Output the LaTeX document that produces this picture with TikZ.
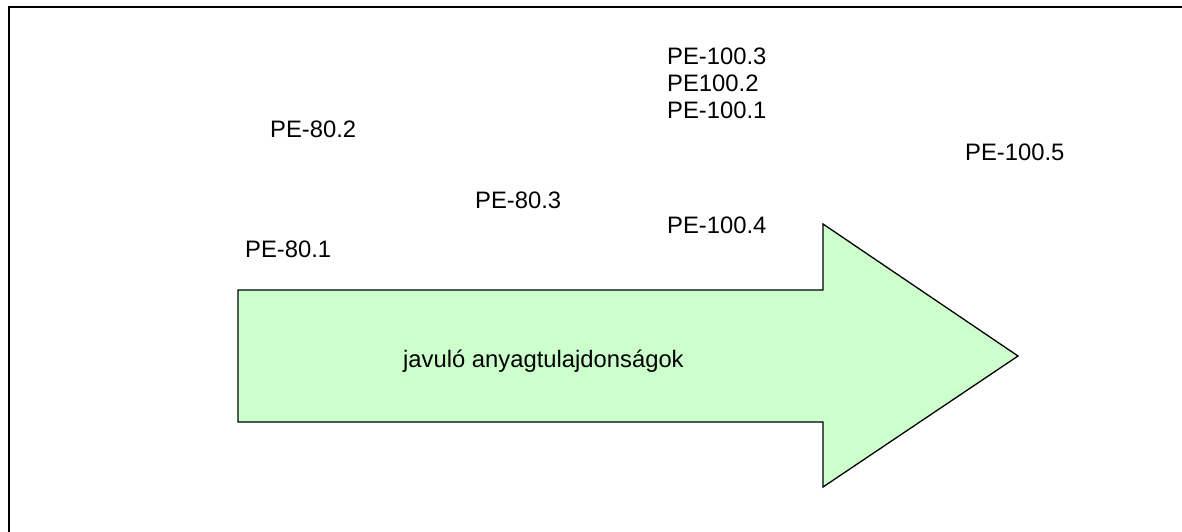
\documentclass[tikz,border=0pt]{standalone}
\usepackage{fontspec}
\setmainfont{Liberation Sans}
\usepackage{tikz}

\definecolor{arrowgreen}{HTML}{CCFFCC}

\tikzset{
  label text/.style={anchor=base west, inner sep=0pt, font=\fontsize{23.8}{27}\selectfont},
}

\begin{document}
\begin{tikzpicture}[x=1pt, y=-1pt]

\useasboundingbox (0, 0) rectangle (1182, 531);
\clip (0, 0) rectangle (1182, 531);

% frame
\draw[line width=2pt] (9, 540)--(9, 7)--(1190, 7);

% arrow
\draw[fill=arrowgreen, line width=1.3pt, line join=miter]
  (238, 290)--(823, 290)--(823, 224)--(1018, 356)--(823, 487)--(823, 422)--(238, 422)--cycle;

\node[label text] (arrowtext) at (403, 367) {javuló anyagtulajdonságok};

\node[label text] (pe801) at (245, 257) {PE-80.1};
\node[label text] (pe802) at (270, 137) {PE-80.2};
\node[label text] (pe803) at (475, 208) {PE-80.3};

\node[label text] (pe1003) at (667, 64) {PE-100.3};
\node[label text] (pe1002) at (667, 91) {PE100.2};
\node[label text] (pe1001) at (667, 118) {PE-100.1};
\node[label text] (pe1004) at (667, 233) {PE-100.4};
\node[label text] (pe1005) at (965, 160) {PE-100.5};

\end{tikzpicture}
\end{document}
